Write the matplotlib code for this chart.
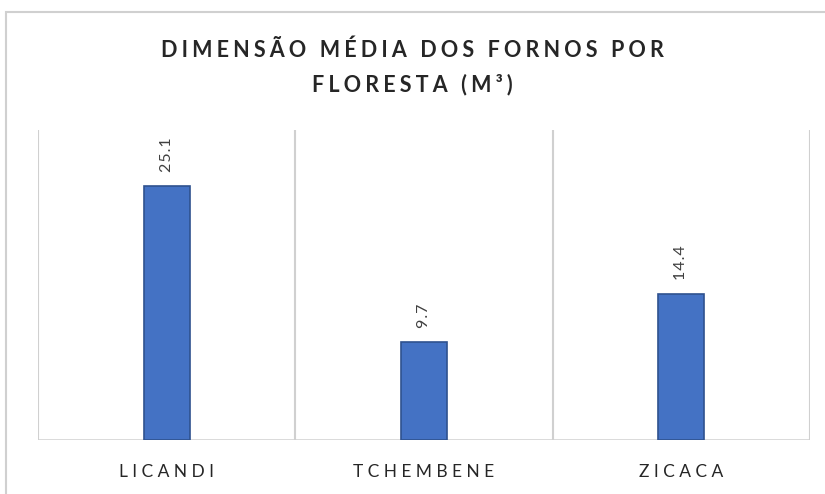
import matplotlib.pyplot as plt
from matplotlib.patches import Rectangle

florestas = ["LICANDI", "TCHEMBENE", "ZICACA"]
dimensao = [25.1, 9.7, 14.4]
titulo = ["DIMENSÃO MÉDIA DOS FORNOS POR", "FLORESTA (M³)"]

plt.rcParams['font.family'] = ['Lato', 'DejaVu Sans']

def spaced(s, sep="\u200a"):
    return sep.join(s)

fig = plt.figure(figsize=(8.25, 4.94), dpi=100)
ax = fig.add_axes([38/825, 1 - 440/494, (810 - 38)/825, (440 - 130)/494])

xs = range(len(florestas))
ax.bar(xs, dimensao, width=0.18, color="#4472c4", edgecolor="#2f528f", linewidth=1.2, zorder=3)

for x, v in zip(xs, dimensao):
    ax.text(x, v + 1.4, spaced(f"{v}"), rotation=90, ha="center", va="bottom",
            fontsize=11.5, color="#404040")

ax.set_xlim(-0.5, len(florestas) - 0.5)
ax.set_ylim(0, 30.6)
for sep in [i - 0.5 for i in range(len(florestas) + 1)]:
    ax.axvline(sep, color="#d0d0d0", lw=1.5, zorder=1)
ax.axhline(0, color="#d0d0d0", lw=1.8, zorder=2)

for s in ax.spines.values():
    s.set_visible(False)
ax.set_yticks([])
ax.set_xticks(list(xs))
ax.set_xticklabels([spaced(f, "\u2009\u200a\u200a") for f in florestas], fontsize=12.5, color="#262626")
ax.tick_params(axis="x", length=0, pad=17)

fig.text(0.5, 1 - 50/494, spaced(titulo[0], "\u2009\u200a"), ha="center", va="center",
         fontsize=15.5, fontweight="bold", color="#262626")
fig.text(0.5, 1 - 85/494, spaced(titulo[1], "\u2009\u200a"), ha="center", va="center",
         fontsize=15.5, fontweight="bold", color="#262626")

fig.add_artist(Rectangle((6/825, -0.1), 1.1, (494 - 12)/494 + 0.1, transform=fig.transFigure,
                         fill=False, edgecolor="#d0d0d0", lw=1.5, clip_on=False))

fig.savefig("out.png", dpi=100)
